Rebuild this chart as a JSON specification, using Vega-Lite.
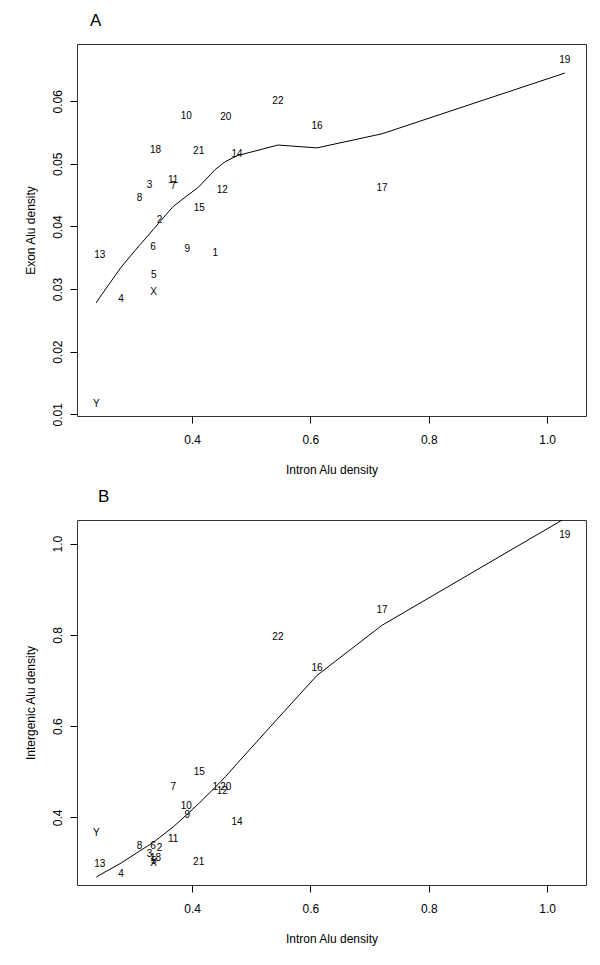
{
  "$schema": "https://vega.github.io/schema/vega-lite/v6.json",
  "background": "white",
  "padding": {"left": 23, "top": 11, "right": 5, "bottom": 5},
  "spacing": 11,
  "config": {
    "font": "Liberation Sans",
    "view": {"stroke": "#333", "strokeWidth": 1},
    "axis": {"domain": false, "grid": false, "tickColor": "#000", "tickSize": 7, "labelColor": "#000", "labelFontSize": 12, "titleFontSize": 12, "titleFontWeight": "normal", "titleColor": "#000", "labelFont": "Liberation Sans", "titleFont": "Liberation Sans"},
    "axisX": {"labelPadding": 11, "titlePadding": 19},
    "axisY": {"labelAngle": -90, "labelPadding": 6, "titlePadding": 14},
    "title": {"fontSize": 17, "fontWeight": "normal", "anchor": "start", "frame": "group", "color": "#000", "font": "Liberation Sans"}
  },
  "datasets": {
    "pts": [
      {"chr": "1", "intron": 0.439, "exon": 0.0358, "intergenic": 0.4657},
      {"chr": "2", "intron": 0.345, "exon": 0.0410, "intergenic": 0.3328},
      {"chr": "3", "intron": 0.328, "exon": 0.0467, "intergenic": 0.319},
      {"chr": "4", "intron": 0.280, "exon": 0.02845, "intergenic": 0.2765},
      {"chr": "5", "intron": 0.335, "exon": 0.0322, "intergenic": 0.304},
      {"chr": "6", "intron": 0.334, "exon": 0.03675, "intergenic": 0.3378},
      {"chr": "7", "intron": 0.368, "exon": 0.0464, "intergenic": 0.4657},
      {"chr": "8", "intron": 0.311, "exon": 0.0446, "intergenic": 0.3378},
      {"chr": "9", "intron": 0.392, "exon": 0.03643, "intergenic": 0.405},
      {"chr": "10", "intron": 0.390, "exon": 0.0577, "intergenic": 0.4241},
      {"chr": "11", "intron": 0.368, "exon": 0.0475, "intergenic": 0.3525},
      {"chr": "12", "intron": 0.451, "exon": 0.0458, "intergenic": 0.4569},
      {"chr": "13", "intron": 0.244, "exon": 0.03542, "intergenic": 0.2977},
      {"chr": "14", "intron": 0.476, "exon": 0.0515, "intergenic": 0.3904},
      {"chr": "15", "intron": 0.412, "exon": 0.0429, "intergenic": 0.4985},
      {"chr": "16", "intron": 0.611, "exon": 0.0560, "intergenic": 0.7269},
      {"chr": "17", "intron": 0.721, "exon": 0.04616, "intergenic": 0.8546},
      {"chr": "18", "intron": 0.338, "exon": 0.0522, "intergenic": 0.3116},
      {"chr": "19", "intron": 1.030, "exon": 0.06666, "intergenic": 1.0188},
      {"chr": "20", "intron": 0.457, "exon": 0.05745, "intergenic": 0.4657},
      {"chr": "21", "intron": 0.411, "exon": 0.0521, "intergenic": 0.3015},
      {"chr": "22", "intron": 0.545, "exon": 0.0600, "intergenic": 0.795},
      {"chr": "X", "intron": 0.335, "exon": 0.02957, "intergenic": 0.301},
      {"chr": "Y", "intron": 0.238, "exon": 0.0117, "intergenic": 0.365}
    ],
    "lowA": [
      {"intron": 0.238, "fit": 0.0278},
      {"intron": 0.244, "fit": 0.0287},
      {"intron": 0.280, "fit": 0.0335},
      {"intron": 0.311, "fit": 0.0370},
      {"intron": 0.328, "fit": 0.0388},
      {"intron": 0.334, "fit": 0.0395},
      {"intron": 0.338, "fit": 0.0399},
      {"intron": 0.345, "fit": 0.0407},
      {"intron": 0.368, "fit": 0.0432},
      {"intron": 0.390, "fit": 0.0448},
      {"intron": 0.411, "fit": 0.0463},
      {"intron": 0.439, "fit": 0.0491},
      {"intron": 0.451, "fit": 0.0500},
      {"intron": 0.457, "fit": 0.0504},
      {"intron": 0.476, "fit": 0.0513},
      {"intron": 0.545, "fit": 0.0530},
      {"intron": 0.611, "fit": 0.05255},
      {"intron": 0.721, "fit": 0.0548},
      {"intron": 1.030, "fit": 0.0645}
    ],
    "lowB": [
      {"intron": 0.238, "fit": 0.269},
      {"intron": 0.244, "fit": 0.274},
      {"intron": 0.280, "fit": 0.300},
      {"intron": 0.311, "fit": 0.326},
      {"intron": 0.328, "fit": 0.340},
      {"intron": 0.334, "fit": 0.345},
      {"intron": 0.338, "fit": 0.349},
      {"intron": 0.345, "fit": 0.356},
      {"intron": 0.368, "fit": 0.379},
      {"intron": 0.390, "fit": 0.405},
      {"intron": 0.411, "fit": 0.430},
      {"intron": 0.439, "fit": 0.466},
      {"intron": 0.451, "fit": 0.482},
      {"intron": 0.457, "fit": 0.490},
      {"intron": 0.476, "fit": 0.518},
      {"intron": 0.545, "fit": 0.617},
      {"intron": 0.611, "fit": 0.711},
      {"intron": 0.721, "fit": 0.821},
      {"intron": 1.030, "fit": 1.055}
    ]
  },
  "vconcat": [
    {
      "width": 509,
      "height": 372,
      "title": {"text": "A", "dx": 13, "offset": 14},
      "layer": [
        {
          "data": {"name": "lowA"},
          "mark": {"type": "line", "color": "#000", "strokeWidth": 1, "clip": true},
          "encoding": {
            "x": {"field": "intron", "type": "quantitative", "scale": {"domain": [0.2054, 1.0658], "nice": false, "zero": false}, "axis": {"title": "Intron Alu density", "values": [0.4, 0.6, 0.8, 1.0], "format": ".1f"}},
            "y": {"field": "fit", "type": "quantitative", "scale": {"domain": [0.00973, 0.06914], "nice": false, "zero": false}, "axis": {"title": "Exon Alu density", "values": [0.01, 0.02, 0.03, 0.04, 0.05, 0.06], "format": ".2f"}}
          }
        },
        {
          "data": {"name": "pts"},
          "mark": {"type": "text", "fontSize": 10, "color": "#000", "font": "Liberation Sans"},
          "encoding": {
            "x": {"field": "intron", "type": "quantitative"},
            "y": {"field": "exon", "type": "quantitative"},
            "text": {"field": "chr", "type": "nominal"}
          }
        }
      ]
    },
    {
      "width": 509,
      "height": 365,
      "title": {"text": "B", "dx": 21, "offset": 14},
      "layer": [
        {
          "data": {"name": "lowB"},
          "mark": {"type": "line", "color": "#000", "strokeWidth": 1, "clip": true},
          "encoding": {
            "x": {"field": "intron", "type": "quantitative", "scale": {"domain": [0.2054, 1.0658], "nice": false, "zero": false}, "axis": {"title": "Intron Alu density", "values": [0.4, 0.6, 0.8, 1.0], "format": ".1f"}},
            "y": {"field": "fit", "type": "quantitative", "scale": {"domain": [0.2518, 1.0517], "nice": false, "zero": false}, "axis": {"title": "Intergenic Alu density", "values": [0.4, 0.6, 0.8, 1.0], "format": ".1f"}}
          }
        },
        {
          "data": {"name": "pts"},
          "mark": {"type": "text", "fontSize": 10, "color": "#000", "font": "Liberation Sans"},
          "encoding": {
            "x": {"field": "intron", "type": "quantitative"},
            "y": {"field": "intergenic", "type": "quantitative"},
            "text": {"field": "chr", "type": "nominal"}
          }
        }
      ]
    }
  ]
}
